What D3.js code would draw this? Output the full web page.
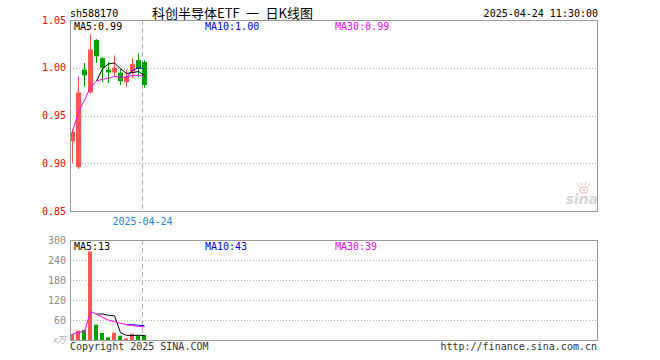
<!DOCTYPE html>
<html>
<head>
<meta charset="utf-8">
<script src="https://cdn.jsdelivr.net/npm/d3@7"></script>
<style>
  body { margin: 0; background: #fff; }
  svg { display: block; }
  .mono { font-family: "DejaVu Sans Mono", "Liberation Mono", monospace; font-size: 10px; }
</style>
</head>
<body>
<svg id="chart" width="660" height="360"></svg>
<script>
// daily candles
const dates  = ['2025-04-08', '2025-04-09', '2025-04-10', '2025-04-11', '2025-04-14', '2025-04-15', '2025-04-16',
                '2025-04-17', '2025-04-18', '2025-04-21', '2025-04-22', '2025-04-23', '2025-04-24'];
const opens  = [0.923, 0.896, 0.998, 0.974, 1.029, 1.010, 0.998, 0.995, 0.995, 0.985, 0.996, 1.008, 1.006];
const highs  = [0.936, 0.991, 1.005, 1.035, 1.030, 1.011, 1.006, 1.013, 0.999, 0.998, 1.010, 1.015, 1.008];
const lows   = [0.900, 0.894, 0.980, 0.973, 1.005, 0.985, 0.984, 0.991, 0.982, 0.980, 0.989, 0.990, 0.979];
const closes = [0.933, 0.974, 0.992, 1.019, 1.012, 1.000, 0.995, 1.000, 0.986, 0.991, 1.004, 0.999, 0.982];
const volumes = [18, 28, 30, 266, 46, 21, 8, 22, 13, 5, 19, 13, 15];

// moving average lines as they appear
const ma5  = [null, null, null, null, 0.986, 0.999, 1.004, 1.005, 0.999, 0.994, 0.995, 0.996, 0.992];
const ma10 = [null, null, null, null, null, null, null, null, null, 0.990, 0.997, 1.000, 0.999];
const ma30 = [0.933, 0.954, 0.966, 0.980, 0.986, 0.988, 0.989, 0.991, 0.990, 0.990, 0.992, 0.992, 0.991];
const volMa5  = [null, null, null, null, 77.6, 78.2, 74.2, 72.6, 22.0, 13.8, 13.4, 14.4, 13.0];
const volMa10 = [null, null, null, null, null, null, null, null, null, 45.7, 45.8, 44.3, 42.8];
const volMa30 = [18, 23, 25.3, 85.5, 77.6, 68.2, 59.6, 54.9, 50.2, 45.7, 43.3, 40.8, 38.8];

const priceTicks = [0.85, 0.90, 0.95, 1.00, 1.05];
const priceGrid = [0.90, 0.95, 1.00];
const volTicks = [60, 120, 180, 240, 300];
const volGrid = [60, 120, 180, 240];
const markDate = '2025-04-24';

const code = 'sh588170';
const title = '科创半导体ETF 一 日K线图';
const stamp = '2025-04-24 11:30:00';

const UP = '#ff5454', DOWN = '#00a000', FRAME = '#9a9a9a', GRID = '#b0b0b0';
const maColors = ['#000000', '#0000ff', '#ff00ff'];

const svg = d3.select('#chart');
const left = 70, right = 597;
const pTop = 20, pBottom = 211;
const vTop = 240, vBottom = 340;

// one slot per trading day, 6px apart
const x = d3.scaleBand()
    .domain(dates)
    .range([left, left + 6 * (dates.length - 1 / 6)])
    .paddingInner(1 / 6)
    .paddingOuter(0);
const bw = x.bandwidth();
const cx = i => x(dates[i]) + bw / 2;

const y = d3.scaleLinear().domain([0.85, 1.05]).range([pBottom, pTop]);
const yv = d3.scaleLinear().domain([0, 300]).range([vBottom, vTop]);

// header
svg.append('text').attr('class', 'mono').attr('x', left).attr('y', 17).attr('fill', '#000').text(code);
svg.append('text')
    .attr('x', 152).attr('y', 18)
    .attr('font-family', '"Noto Sans CJK SC", sans-serif')
    .attr('font-size', 13)
    .attr('fill', '#000')
    .text(title.replace(/ /g, '\u2002'));
svg.append('text').attr('class', 'mono').attr('x', 598).attr('y', 17)
    .attr('text-anchor', 'end').attr('fill', '#000').text(stamp);

// gridlines
function grid(vals, scale) {
    svg.append('g').selectAll('line')
        .data(vals)
        .join('line')
        .attr('x1', left).attr('x2', right)
        .attr('y1', d => Math.round(scale(d)) + 0.5)
        .attr('y2', d => Math.round(scale(d)) + 0.5)
        .attr('stroke', GRID)
        .attr('stroke-dasharray', '1,2');
}
grid(priceGrid, y);
grid(volGrid, yv);

// watermark
const logo = svg.append('g').attr('opacity', 0.4);
logo.append('ellipse').attr('cx', 584).attr('cy', 190).attr('rx', 4).attr('ry', 3)
    .attr('fill', 'none').attr('stroke', '#f07070').attr('stroke-width', 1.5);
logo.append('circle').attr('cx', 584).attr('cy', 190).attr('r', 1.2).attr('fill', '#f07070');
logo.append('path').attr('d', 'M579,186 L577,183 M582,185 L581,182 M585,185 L586,182 M588,186 L590,183')
    .attr('stroke', '#f07070').attr('stroke-width', 1);
logo.append('text')
    .attr('x', 598).attr('y', 204)
    .attr('text-anchor', 'end')
    .attr('font-family', '"DejaVu Sans", sans-serif')
    .attr('font-size', 14).attr('font-weight', 'bold').attr('font-style', 'italic')
    .attr('fill', '#9a9a9a')
    .text('sina');

// date marker
const mx = Math.round(x(markDate)) + 0.5;
[[pTop, pBottom], [vTop, vBottom]].forEach(([a, b]) => {
    svg.append('line')
        .attr('x1', mx).attr('x2', mx).attr('y1', a).attr('y2', b)
        .attr('stroke', GRID).attr('stroke-dasharray', '5,3');
});
svg.append('text').attr('class', 'mono')
    .attr('x', mx).attr('y', 225).attr('text-anchor', 'middle')
    .attr('fill', '#1b84d6').text(markDate);

// candles
const idx = d3.range(dates.length);
const col = i => closes[i] >= opens[i] ? UP : DOWN;
const candles = svg.append('g');
candles.selectAll('line')
    .data(idx)
    .join('line')
    .attr('x1', i => cx(i)).attr('x2', i => cx(i))
    .attr('y1', i => y(highs[i])).attr('y2', i => y(lows[i]))
    .attr('stroke', col);
candles.selectAll('rect')
    .data(idx)
    .join('rect')
    .attr('x', i => x(dates[i]))
    .attr('width', bw)
    .attr('y', i => y(Math.max(opens[i], closes[i])))
    .attr('height', i => Math.max(1, y(Math.min(opens[i], closes[i])) - y(Math.max(opens[i], closes[i]))))
    .attr('fill', col);

// volume bars
svg.append('g').selectAll('rect')
    .data(idx)
    .join('rect')
    .attr('x', i => x(dates[i]))
    .attr('width', bw - 1)
    .attr('y', i => yv(volumes[i]))
    .attr('height', i => yv(0) - yv(volumes[i]))
    .attr('fill', col);

// moving averages
function maLine(vals, scale, color) {
    const line = d3.line()
        .defined(i => vals[i] != null)
        .x(i => cx(i))
        .y(i => scale(vals[i]));
    svg.append('path')
        .datum(idx)
        .attr('d', line)
        .attr('fill', 'none')
        .attr('stroke', color)
        .attr('stroke-width', 1);
}
[ma5, ma10, ma30].forEach((m, k) => maLine(m, y, maColors[k]));
[volMa5, volMa10, volMa30].forEach((m, k) => maLine(m, yv, maColors[k]));

// frames
svg.append('rect').attr('x', left + 0.5).attr('y', pTop + 0.5)
    .attr('width', right - left).attr('height', pBottom - pTop)
    .attr('fill', 'none').attr('stroke', FRAME);
svg.append('rect').attr('x', left + 0.5).attr('y', vTop + 0.5)
    .attr('width', right - left).attr('height', vBottom - vTop)
    .attr('fill', 'none').attr('stroke', FRAME);

// axes
const pAxis = svg.append('g')
    .attr('transform', `translate(${left},0)`)
    .call(d3.axisLeft(y).tickValues(priceTicks).tickSize(0).tickPadding(4).tickFormat(d3.format('.2f')));
pAxis.select('.domain').remove();
pAxis.selectAll('text').attr('class', 'mono').attr('fill', '#ff0000').attr('font-size', null).attr('font-family', null);

const vAxis = svg.append('g')
    .attr('transform', `translate(${left},0)`)
    .call(d3.axisLeft(yv).tickValues(volTicks).tickSize(0).tickPadding(4));
vAxis.select('.domain').remove();
vAxis.selectAll('text').attr('class', 'mono').attr('fill', '#8a8a8a').attr('font-size', null).attr('font-family', null);
svg.append('text')
    .attr('x', left - 4).attr('y', yv(0) + 3)
    .attr('text-anchor', 'end')
    .attr('font-family', '"Noto Sans CJK SC", sans-serif')
    .attr('font-size', 9).attr('font-style', 'italic').attr('fill', '#b0b0b0')
    .text('x万');

// legends
const last = a => a[a.length - 1];
const legendX = [74, 205, 335];
const priceLegend = ['MA5:' + last(ma5).toFixed(2), 'MA10:' + last(ma10).toFixed(2), 'MA30:' + last(ma30).toFixed(2)];
const volLegend = ['MA5:' + last(volMa5).toFixed(0), 'MA10:' + last(volMa10).toFixed(0), 'MA30:' + last(volMa30).toFixed(0)];
priceLegend.forEach((t, k) => {
    svg.append('text').attr('class', 'mono').attr('x', legendX[k]).attr('y', 30).attr('fill', maColors[k]).text(t);
});
volLegend.forEach((t, k) => {
    svg.append('text').attr('class', 'mono').attr('x', legendX[k]).attr('y', 250).attr('fill', maColors[k]).text(t);
});

// footer
svg.append('text').attr('class', 'mono').attr('x', left).attr('y', 350).attr('fill', '#333').text('Copyright 2025 SINA.COM');
svg.append('text').attr('class', 'mono').attr('x', right).attr('y', 350)
    .attr('text-anchor', 'end').attr('fill', '#333').text('http://finance.sina.com.cn');
</script>
</body>
</html>
